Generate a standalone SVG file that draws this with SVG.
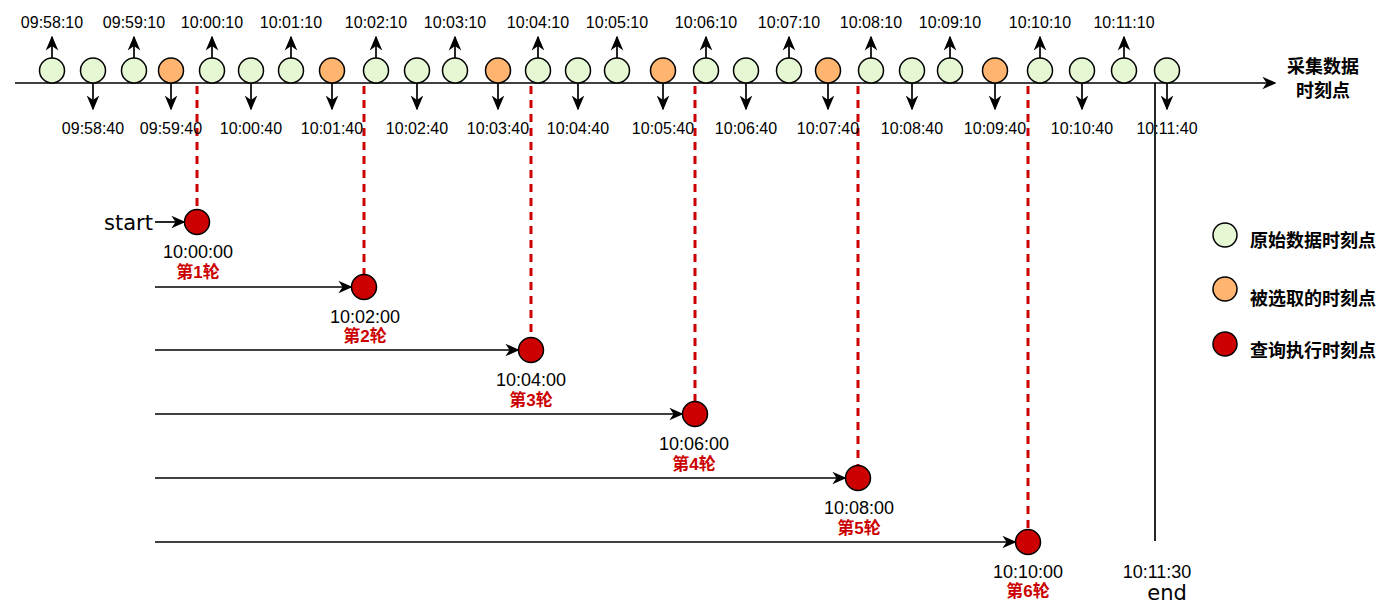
<svg xmlns="http://www.w3.org/2000/svg" width="1400" height="612" viewBox="0 0 1400 612">
<style>
.bg{fill:#ffffff}
.g{fill:#E6F7D4;stroke:#000;stroke-width:1.5}
.o{fill:#FFB570;stroke:#000;stroke-width:1.5}
.r{fill:#CC0000;stroke:#000;stroke-width:1.5}
.ln{stroke:#000;stroke-width:1.7;fill:none}
.dash{stroke:#CC0000;stroke-width:3;stroke-dasharray:8 6;fill:none}
.t{font-family:"Liberation Sans",Arial,sans-serif;font-size:16px;fill:#000;text-anchor:middle}
.tq{font-family:"Liberation Sans",Arial,sans-serif;font-size:18px;fill:#000;text-anchor:middle}
.rd{font-family:"Liberation Sans","Noto Sans CJK SC",sans-serif;font-size:17px;font-weight:bold;fill:#CC0000;text-anchor:middle}
.cj{font-family:"Noto Sans CJK SC",sans-serif;font-size:18px;font-weight:bold;fill:#000}
.hd{font-family:"DejaVu Sans",sans-serif;font-size:21px;fill:#000}
</style>
<defs>
<marker id="ah" viewBox="0 0 10 10" refX="9" refY="5" markerWidth="15" markerHeight="15" markerUnits="userSpaceOnUse" orient="auto">
<path d="M0,0.8 L10,5 L0,9.2 L3,5 z" fill="#000"/>
</marker>
<marker id="ah2" viewBox="0 0 10 10" refX="9" refY="5" markerWidth="14" markerHeight="14" markerUnits="userSpaceOnUse" orient="auto">
<path d="M0,0.5 L10,5 L0,9.5 L3,5 z" fill="#000"/>
</marker>
</defs>
<rect class="bg" x="0" y="0" width="1400" height="612"/>

<g id="connectors">
<line class="ln" x1="15" y1="83" x2="1275" y2="83" marker-end="url(#ah2)"/>
<line class="ln" x1="1155" y1="83" x2="1155" y2="541"/>
<line class="dash" x1="197" y1="86" x2="197" y2="209"/>
<line class="dash" x1="364" y1="86" x2="364" y2="274"/>
<line class="dash" x1="531" y1="86" x2="531" y2="337"/>
<line class="dash" x1="695" y1="86" x2="695" y2="401"/>
<line class="dash" x1="858" y1="86" x2="858" y2="465"/>
<line class="dash" x1="1028" y1="86" x2="1028" y2="529"/>
<line class="ln" x1="155" y1="222" x2="184" y2="222" marker-end="url(#ah2)"/>
<line class="ln" x1="155" y1="287" x2="351" y2="287" marker-end="url(#ah2)"/>
<line class="ln" x1="155" y1="350" x2="518" y2="350" marker-end="url(#ah2)"/>
<line class="ln" x1="155" y1="414" x2="682" y2="414" marker-end="url(#ah2)"/>
<line class="ln" x1="155" y1="478" x2="845" y2="478" marker-end="url(#ah2)"/>
<line class="ln" x1="155" y1="542" x2="1015" y2="542" marker-end="url(#ah2)"/>
</g>

<g id="axis-label">
<text class="cj" x="1323" y="73" text-anchor="middle">采集数据</text>
<text class="cj" x="1323" y="97" text-anchor="middle">时刻点</text>
</g>

<g id="p0958_10"><line class="ln" x1="52" y1="58" x2="52" y2="37" marker-end="url(#ah)"/><circle class="g" cx="52" cy="70.5" r="12.5"/><text class="t" x="52" y="28">09:58:10</text></g>
<g id="p0958_40"><line class="ln" x1="93" y1="83" x2="93" y2="109" marker-end="url(#ah)"/><circle class="g" cx="93" cy="70.5" r="12.5"/><text class="t" x="93" y="134">09:58:40</text></g>
<g id="p0959_10"><line class="ln" x1="134" y1="58" x2="134" y2="37" marker-end="url(#ah)"/><circle class="g" cx="134" cy="70.5" r="12.5"/><text class="t" x="134" y="28">09:59:10</text></g>
<g id="p0959_40"><line class="ln" x1="171" y1="83" x2="171" y2="109" marker-end="url(#ah)"/><circle class="o" cx="171" cy="70.5" r="12.5"/><text class="t" x="171" y="134">09:59:40</text></g>
<g id="p1000_10"><line class="ln" x1="212" y1="58" x2="212" y2="37" marker-end="url(#ah)"/><circle class="g" cx="212" cy="70.5" r="12.5"/><text class="t" x="212" y="28">10:00:10</text></g>
<g id="p1000_40"><line class="ln" x1="251" y1="83" x2="251" y2="109" marker-end="url(#ah)"/><circle class="g" cx="251" cy="70.5" r="12.5"/><text class="t" x="251" y="134">10:00:40</text></g>
<g id="p1001_10"><line class="ln" x1="291" y1="58" x2="291" y2="37" marker-end="url(#ah)"/><circle class="g" cx="291" cy="70.5" r="12.5"/><text class="t" x="291" y="28">10:01:10</text></g>
<g id="p1001_40"><line class="ln" x1="332" y1="83" x2="332" y2="109" marker-end="url(#ah)"/><circle class="o" cx="332" cy="70.5" r="12.5"/><text class="t" x="332" y="134">10:01:40</text></g>
<g id="p1002_10"><line class="ln" x1="376" y1="58" x2="376" y2="37" marker-end="url(#ah)"/><circle class="g" cx="376" cy="70.5" r="12.5"/><text class="t" x="376" y="28">10:02:10</text></g>
<g id="p1002_40"><line class="ln" x1="417" y1="83" x2="417" y2="109" marker-end="url(#ah)"/><circle class="g" cx="417" cy="70.5" r="12.5"/><text class="t" x="417" y="134">10:02:40</text></g>
<g id="p1003_10"><line class="ln" x1="455" y1="58" x2="455" y2="37" marker-end="url(#ah)"/><circle class="g" cx="455" cy="70.5" r="12.5"/><text class="t" x="455" y="28">10:03:10</text></g>
<g id="p1003_40"><line class="ln" x1="498" y1="83" x2="498" y2="109" marker-end="url(#ah)"/><circle class="o" cx="498" cy="70.5" r="12.5"/><text class="t" x="498" y="134">10:03:40</text></g>
<g id="p1004_10"><line class="ln" x1="538" y1="58" x2="538" y2="37" marker-end="url(#ah)"/><circle class="g" cx="538" cy="70.5" r="12.5"/><text class="t" x="538" y="28">10:04:10</text></g>
<g id="p1004_40"><line class="ln" x1="578" y1="83" x2="578" y2="109" marker-end="url(#ah)"/><circle class="g" cx="578" cy="70.5" r="12.5"/><text class="t" x="578" y="134">10:04:40</text></g>
<g id="p1005_10"><line class="ln" x1="617" y1="58" x2="617" y2="37" marker-end="url(#ah)"/><circle class="g" cx="617" cy="70.5" r="12.5"/><text class="t" x="617" y="28">10:05:10</text></g>
<g id="p1005_40"><line class="ln" x1="663" y1="83" x2="663" y2="109" marker-end="url(#ah)"/><circle class="o" cx="663" cy="70.5" r="12.5"/><text class="t" x="663" y="134">10:05:40</text></g>
<g id="p1006_10"><line class="ln" x1="706" y1="58" x2="706" y2="37" marker-end="url(#ah)"/><circle class="g" cx="706" cy="70.5" r="12.5"/><text class="t" x="706" y="28">10:06:10</text></g>
<g id="p1006_40"><line class="ln" x1="746" y1="83" x2="746" y2="109" marker-end="url(#ah)"/><circle class="g" cx="746" cy="70.5" r="12.5"/><text class="t" x="746" y="134">10:06:40</text></g>
<g id="p1007_10"><line class="ln" x1="789" y1="58" x2="789" y2="37" marker-end="url(#ah)"/><circle class="g" cx="789" cy="70.5" r="12.5"/><text class="t" x="789" y="28">10:07:10</text></g>
<g id="p1007_40"><line class="ln" x1="828" y1="83" x2="828" y2="109" marker-end="url(#ah)"/><circle class="o" cx="828" cy="70.5" r="12.5"/><text class="t" x="828" y="134">10:07:40</text></g>
<g id="p1008_10"><line class="ln" x1="871" y1="58" x2="871" y2="37" marker-end="url(#ah)"/><circle class="g" cx="871" cy="70.5" r="12.5"/><text class="t" x="871" y="28">10:08:10</text></g>
<g id="p1008_40"><line class="ln" x1="912" y1="83" x2="912" y2="109" marker-end="url(#ah)"/><circle class="g" cx="912" cy="70.5" r="12.5"/><text class="t" x="912" y="134">10:08:40</text></g>
<g id="p1009_10"><line class="ln" x1="950" y1="58" x2="950" y2="37" marker-end="url(#ah)"/><circle class="g" cx="950" cy="70.5" r="12.5"/><text class="t" x="950" y="28">10:09:10</text></g>
<g id="p1009_40"><line class="ln" x1="995" y1="83" x2="995" y2="109" marker-end="url(#ah)"/><circle class="o" cx="995" cy="70.5" r="12.5"/><text class="t" x="995" y="134">10:09:40</text></g>
<g id="p1010_10"><line class="ln" x1="1040" y1="58" x2="1040" y2="37" marker-end="url(#ah)"/><circle class="g" cx="1040" cy="70.5" r="12.5"/><text class="t" x="1040" y="28">10:10:10</text></g>
<g id="p1010_40"><line class="ln" x1="1082" y1="83" x2="1082" y2="109" marker-end="url(#ah)"/><circle class="g" cx="1082" cy="70.5" r="12.5"/><text class="t" x="1082" y="134">10:10:40</text></g>
<g id="p1011_10"><line class="ln" x1="1124" y1="58" x2="1124" y2="37" marker-end="url(#ah)"/><circle class="g" cx="1124" cy="70.5" r="12.5"/><text class="t" x="1124" y="28">10:11:10</text></g>
<g id="p1011_40"><line class="ln" x1="1167" y1="83" x2="1167" y2="109" marker-end="url(#ah)"/><circle class="g" cx="1167" cy="70.5" r="12.5"/><text class="t" x="1167" y="134">10:11:40</text></g>

<g id="start"><text class="hd" x="153" y="230" text-anchor="end" font-size="22">start</text></g>
<g id="q1"><circle class="r" cx="197" cy="222" r="12.5"/><text class="tq" x="198" y="258">10:00:00</text><text class="rd" x="198" y="278">第1轮</text></g>
<g id="q2"><circle class="r" cx="364" cy="287" r="12.5"/><text class="tq" x="365" y="323">10:02:00</text><text class="rd" x="365" y="342">第2轮</text></g>
<g id="q3"><circle class="r" cx="531" cy="350" r="12.5"/><text class="tq" x="531" y="386">10:04:00</text><text class="rd" x="531" y="406">第3轮</text></g>
<g id="q4"><circle class="r" cx="695" cy="414" r="12.5"/><text class="tq" x="694" y="450">10:06:00</text><text class="rd" x="694" y="470">第4轮</text></g>
<g id="q5"><circle class="r" cx="858" cy="478" r="12.5"/><text class="tq" x="859" y="514">10:08:00</text><text class="rd" x="859" y="534">第5轮</text></g>
<g id="q6"><circle class="r" cx="1028" cy="542" r="12.5"/><text class="tq" x="1028" y="578">10:10:00</text><text class="rd" x="1028" y="597">第6轮</text></g>
<g id="end"><text class="tq" x="1157" y="578">10:11:30</text><text class="hd" x="1167" y="600" text-anchor="middle" font-size="20">end</text></g>

<g id="legend">
<g id="lg1"><circle class="g" cx="1225" cy="235" r="12"/><text class="cj" x="1250" y="247">原始数据时刻点</text></g>
<g id="lg2"><circle class="o" cx="1225" cy="289" r="12"/><text class="cj" x="1250" y="305">被选取的时刻点</text></g>
<g id="lg3"><circle class="r" cx="1225" cy="344" r="12"/><text class="cj" x="1250" y="357">查询执行时刻点</text></g>
</g>
</svg>
